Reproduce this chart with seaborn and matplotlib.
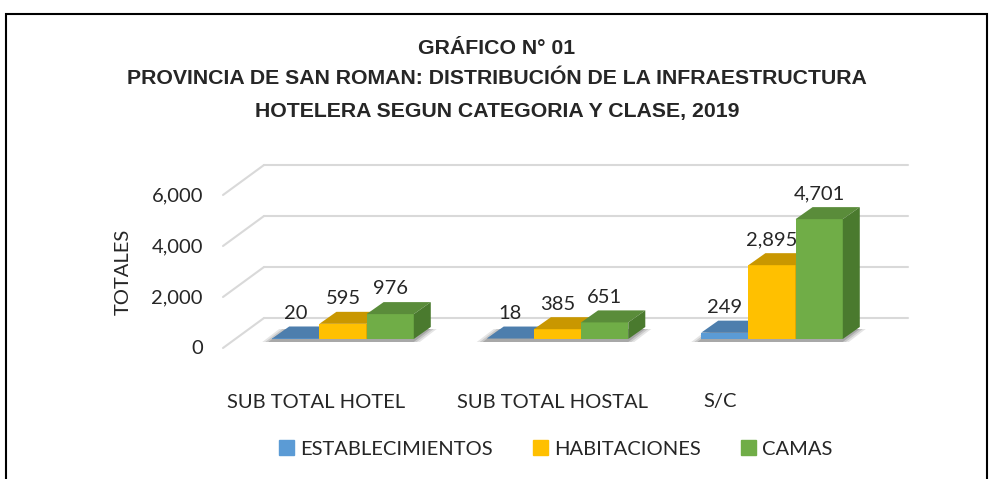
import numpy as np
import pandas as pd
import matplotlib.pyplot as plt
import seaborn as sns
from matplotlib.patches import Polygon, Patch, Rectangle

# datos del grafico
categorias = ["SUB TOTAL HOTEL", "SUB TOTAL HOSTAL", "S/C"]
series = ["ESTABLECIMIENTOS", "HABITACIONES", "CAMAS"]
establecimientos = [20, 18, 249]
habitaciones = [595, 385, 2895]
camas = [976, 651, 4701]
ticks_y = [0, 2000, 4000, 6000]
titulo = ["GRÁFICO N° 01",
          "PROVINCIA DE SAN ROMAN: DISTRIBUCIÓN DE LA INFRAESTRUCTURA",
          "HOTELERA SEGUN CATEGORIA Y CLASE, 2019"]

df = pd.DataFrame({
    "categoria": categorias * 3,
    "serie": [s for s in series for _ in categorias],
    "valor": establecimientos + habitaciones + camas,
})

frente = ["#5B9BD5", "#FFC000", "#70AD47"]
arriba = ["#4D7EAD", "#C99700", "#5A8C3A"]
lado = ["#41719C", "#B38600", "#4A7A2E"]

sns.set_style("white")
plt.rcParams['font.family'] = ['Lato', 'DejaVu Sans']
FS = 14.5

fig = plt.figure(figsize=(9.89, 4.79), dpi=100)

# escala en pixeles de la imagen
GX0, GSTEP = 343, 214.5
Y0, PPK = 339, 25.5
def dx(px):
    return px / GSTEP
def dv(px):
    return px * 1000 / PPK

L, R, T, B = 150, 940, 150, 365
ax = fig.add_axes([L / 989, (479 - B) / 479, (R - L) / 989, (B - T) / 479])

sns.barplot(data=df, x="categoria", y="valor", hue="serie", palette=frente,
            width=0.66, gap=0, saturation=1, errorbar=None, linewidth=0,
            legend=False, ax=ax)

ax.set_xlim((L - GX0) / GSTEP, (R - GX0) / GSTEP)
ax.set_ylim(-dv(B - Y0), dv(Y0 - T))
ax.set_axis_off()

# pared del fondo y lineas de piso
xb0, xb1 = dx(264 - GX0), dx(908 - GX0)
xf = dx(223 - GX0)
for v in ticks_y:
    ax.plot([xb0, xb1], [v + dv(21), v + dv(21)], color="#D9D9D9", lw=1.5, zorder=1)
    ax.plot([xf, xb0], [v - dv(9), v + dv(21)], color="#D9D9D9", lw=1.5, zorder=1)
    ax.text(dx(203 - GX0), v - dv(10), f"{v:,}", ha="right", va="center", fontsize=FS)

# sombra y caras 3D
ddx, ddy = dx(17), dv(12)
ancho = ax.containers[0][0].get_width()
for i in range(len(categorias)):
    x0 = i - 1.5 * ancho
    x1 = i + 1.5 * ancho
    for k, a in enumerate([0.10, 0.12, 0.16]):
        e = 10 - 3 * k
        ax.add_patch(Polygon([(x0 - dx(e), -dv(3)), (x1 + dx(e - 4), -dv(3)),
                              (x1 + ddx + dx(e - 4), ddy - dv(2)), (x0 + ddx - dx(e), ddy - dv(2))],
                             closed=True, fc="black", ec="none", alpha=a, zorder=2))
for i, cont in enumerate(ax.containers):
    for bar in cont:
        bar.set_zorder(3 + i)
        x0, w, h = bar.get_x(), bar.get_width(), bar.get_height()
        ax.add_patch(Polygon([(x0, h), (x0 + w, h), (x0 + w + ddx, h + ddy), (x0 + ddx, h + ddy)],
                             closed=True, fc=arriba[i], ec="none", zorder=3 + i + 0.1))
        ax.add_patch(Polygon([(x0 + w, 0), (x0 + w + ddx, ddy), (x0 + w + ddx, h + ddy), (x0 + w, h)],
                             closed=True, fc=lado[i], ec="none", zorder=3 + i + 0.1))
    ax.bar_label(cont, labels=[f"{v:,.0f}" for v in cont.datavalues], padding=12,
                 fontsize=FS, zorder=10)

# etiquetas de categoria
desplaz = [-27, -5, -52]
for i, c in enumerate(categorias):
    ax.text(i + dx(desplaz[i]), -dv(402 - Y0), c, ha="center", va="center", fontsize=FS)

fig.text(123 / 989, 1 - 272 / 479, "TOTALES", rotation=90, ha="center", va="center", fontsize=FS)

for y, linea in zip([49, 79, 111], titulo):
    fig.text(497 / 989, 1 - y / 479, linea, ha="center", va="center", fontsize=15.3,
             fontweight="bold", family=['Liberation Sans Narrow', 'Liberation Sans'])

handles = [Patch(color=c) for c in frente]
fig.legend(handles, series, loc="center", bbox_to_anchor=(556 / 989, 1 - 449 / 479), ncol=3,
           frameon=False, handlelength=0.75, handleheight=0.75, handletextpad=0.3,
           columnspacing=2.0, fontsize=FS)

fig.patches.append(Rectangle((6 / 989, -0.02), 981 / 989, 1.02 - 14 / 479, transform=fig.transFigure,
                             fill=False, ec="black", lw=1.5))

fig.savefig("out.png", dpi=100)
